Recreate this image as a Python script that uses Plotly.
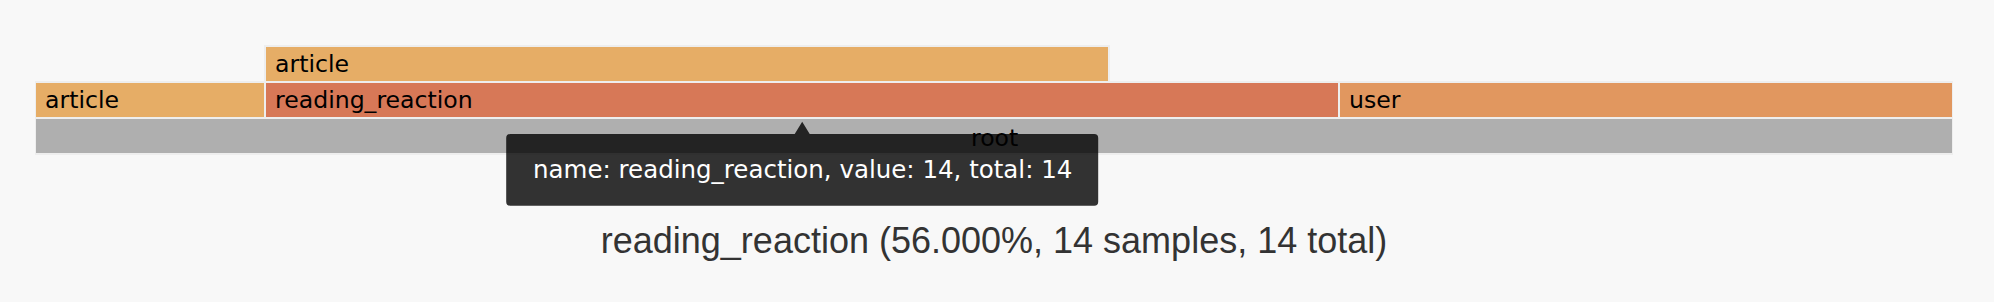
import plotly.graph_objects as go

# ---- data -------------------------------------------------------------
names = ["root", "article", "reading_reaction", "user", "article"]
parents = [None, 0, 0, 0, 2]          # index of parent frame
values = [25, 3, 14, 8, 11]           # samples per frame
colors = ["#afafaf", "#e6ad66", "#d77857", "#e1975f", "#e6ad66"]
hovered = 2                            # frame under the pointer

# ---- flame layout (start / depth) from the tree -------------------------
n = len(names)
levels = [0] * n
starts = [0] * n
next_free = {}
for i in range(n):
    p = parents[i]
    if p is None:
        levels[i] = 0
        starts[i] = 0
    else:
        levels[i] = levels[p] + 1
        starts[i] = next_free.get(p, starts[p])
        next_free[p] = starts[i] + values[i]

total = values[0]
h = hovered
pct = values[h] / total * 100

# ---- figure geometry ---------------------------------------------------
W, H = 1994, 302
ROW_PX = 36.0
ROOT_CENTER_PX = 135.7
ymax = ROOT_CENTER_PX / ROW_PX
ymin = ymax - H / ROW_PX

fig = go.Figure()
fig.add_trace(go.Bar(
    orientation="h",
    y=levels,
    x=values,
    base=starts,
    width=[1.0] * n,
    marker=dict(color=colors, line=dict(color="#eeeeee", width=2)),
    hoverinfo="skip",
))

LABEL_FONT = dict(family="DejaVu Sans", size=23.6, color="#000000")
annotations = []
for i in range(n):
    if parents[i] is None:
        annotations.append(dict(
            x=starts[i] + values[i] / 2, y=levels[i], xref="x", yref="y",
            text=names[i], showarrow=False, xanchor="center", yanchor="middle",
            yshift=-2, font=LABEL_FONT,
        ))
    else:
        annotations.append(dict(
            x=starts[i], y=levels[i], xref="x", yref="y",
            text=names[i], showarrow=False, xanchor="left", yanchor="middle",
            xshift=8, font=LABEL_FONT,
        ))

# tooltip text
annotations.append(dict(
    x=starts[h] + values[h] / 2, y=levels[h] - 0.5, xref="x", yref="y",
    text=f"name: {names[h]}, value: {values[h]}, total: {values[h]}",
    showarrow=False, xanchor="center", yanchor="middle", yshift=-52,
    font=dict(family="DejaVu Sans", size=24.5, color="#ffffff"),
))

tooltip_path = (
    "M -292,-16.3 L -7.5,-16.3 L 0,-4 L 7.5,-16.3 L 292,-16.3 "
    "Q 296,-16.3 296,-20.3 L 296,-84 Q 296,-88 292,-88 "
    "L -292,-88 Q -296,-88 -296,-84 L -296,-20.3 Q -296,-16.3 -292,-16.3 Z"
)
shapes = [dict(
    type="path", xref="x", yref="y",
    xsizemode="pixel", ysizemode="pixel",
    xanchor=starts[h] + values[h] / 2, yanchor=levels[h] - 0.5,
    path=tooltip_path, fillcolor="rgba(0,0,0,0.8)", line=dict(width=0),
    layer="above",
)]

fig.update_layout(
    width=W, height=H,
    margin=dict(l=35, r=41, t=0, b=0, pad=0),
    paper_bgcolor="#f8f8f8", plot_bgcolor="#f8f8f8",
    showlegend=False, hovermode=False, bargap=0,
    xaxis=dict(range=[0, total], visible=False, fixedrange=True),
    yaxis=dict(range=[ymin, ymax], visible=False, fixedrange=True),
    annotations=annotations,
    shapes=shapes,
    title=dict(
        text=f"{names[h]} ({pct:.3f}%, {values[h]} samples, {values[h]} total)",
        x=0.5, xref="paper", xanchor="center",
        y=1 - 253 / H, yref="container", yanchor="bottom",
        font=dict(family="Liberation Sans", size=36, color="#333333"),
    ),
)

fig.write_html("out.html")
